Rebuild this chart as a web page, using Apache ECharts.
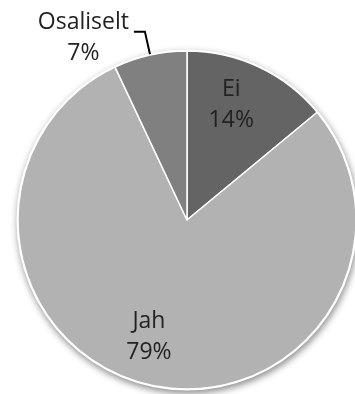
<!DOCTYPE html>
<html>
<head>
<meta charset="utf-8">
<script src="https://cdn.jsdelivr.net/npm/echarts@6/dist/echarts.min.js"></script>
<style>
  html, body { margin: 0; padding: 0; background: #fff; }
  #chart { width: 355px; height: 394px; }
</style>
</head>
<body>
<div id="chart"></div>
<script>
// Answer shares (percent)
const categories = ['Ei', 'Jah', 'Osaliselt'];
const shares = [14, 79, 7];
const colors = ['#646464', '#b2b2b2', '#808080'];

// Nudges for the label blocks (px), per slice
const labelShift = [[7, -36], [-19, 32], [0, 6]];

const chart = echarts.init(document.getElementById('chart'), null, { renderer: 'canvas' });

const center = [187, 220];
const radius = 169;

chart.setOption({
  animation: false,
  backgroundColor: '#ffffff',
  series: [
    {
      // disc underneath the slices carrying the rim and drop shadow
      type: 'pie',
      silent: true,
      center: center,
      radius: radius + 1.5,
      z: 1,
      label: { show: false },
      labelLine: { show: false },
      itemStyle: {
        color: '#ffffff',
        shadowBlur: 7,
        shadowOffsetX: 1,
        shadowOffsetY: 3,
        shadowColor: 'rgba(0,0,0,0.45)'
      },
      data: [{ value: 1 }]
    },
    {
      type: 'pie',
      center: center,
      radius: radius,
      startAngle: 90,
      clockwise: true,
      z: 2,
      avoidLabelOverlap: false,
      itemStyle: { borderColor: '#ffffff', borderWidth: 1.5 },
      label: {
        position: 'inside',
        formatter: p => p.name + '\n' + p.value + '%',
        fontFamily: 'Open Sans',
        fontSize: 23,
        lineHeight: 31,
        color: '#222222',
        align: 'center'
      },
      labelLayout: params => {
        const s = labelShift[params.dataIndex];
        const out = { dx: s[0], dy: s[1] };
        if (categories[params.dataIndex] === 'Osaliselt') {
          // centre the two lines over each other, keeping the block's right edge
          out.align = 'center';
          out.dx = s[0] - params.labelRect.width / 2;
        }
        return out;
      },
      data: categories.map((name, i) => {
        const item = { name: name, value: shares[i], itemStyle: { color: colors[i] } };
        if (name === 'Osaliselt') {
          item.label = { position: 'outside', distanceToLabelLine: 5 };
          item.labelLine = {
            show: true,
            length: 24,
            length2: 11,
            smooth: false,
            lineStyle: { color: '#000000', width: 2 }
          };
        }
        return item;
      })
    }
  ]
});
</script>
</body>
</html>
